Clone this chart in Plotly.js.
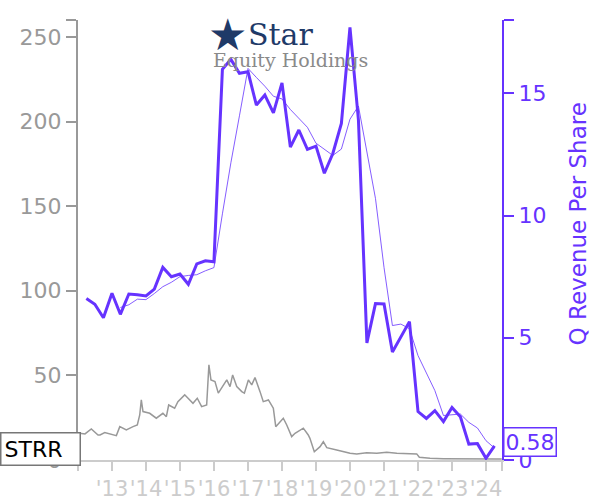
<!DOCTYPE html>
<html><head><meta charset="utf-8">
<script src="https://cdn.plot.ly/plotly-3.0.1.min.js"></script>
<style>html,body{margin:0;padding:0;background:#fff}#chart{width:600px;height:500px}</style>
</head><body><div id="chart"></div>
<script>
// Quarterly revenue per share (right axis)
const quarterDates = [
 "2012-03-31","2012-06-30","2012-09-30","2012-12-31",
 "2013-03-31","2013-06-30","2013-09-30","2013-12-31",
 "2014-03-31","2014-06-30","2014-09-30","2014-12-31",
 "2015-03-31","2015-06-30","2015-09-30","2015-12-31",
 "2016-03-31","2016-06-30","2016-09-30","2016-12-31",
 "2017-03-31","2017-06-30","2017-09-30","2017-12-31",
 "2018-03-31","2018-06-30","2018-09-30","2018-12-31",
 "2019-03-31","2019-06-30","2019-09-30","2019-12-31",
 "2020-03-31","2020-06-30","2020-09-30","2020-12-31",
 "2021-03-31","2021-06-30","2021-09-30","2021-12-31",
 "2022-03-31","2022-06-30","2022-09-30","2022-12-31",
 "2023-03-31","2023-06-30","2023-09-30","2023-12-31",
 "2024-03-31"];
const revenuePerShare = [
 6.61,6.37,5.82,6.82, 5.96,6.79,6.76,6.71, 6.99,7.88,7.50,7.61,
 7.19,8.02,8.15,8.11, 15.98,16.39,15.82,15.88, 14.52,14.93,14.20,15.43,
 12.80,13.50,12.71,12.84, 11.73,12.54,13.77,17.70, 13.91,4.79,6.40,6.38,
 4.42,5.03,5.66,1.98, 1.70,2.02,1.57,2.15, 1.77,0.65,0.67,0.07,
 0.58];
// Thin trailing line (starts at the 5th quarter)
const avgDates = quarterDates.slice(4);
const revenueTrailing = [
 6.24,6.35,6.58,6.56, 6.81,7.09,7.27,7.50, 7.55,7.58,7.74,7.87,
 10.07,12.16,14.08,16.02, 15.65,15.29,14.88,14.77, 14.34,13.98,13.61,12.96,
 12.70,12.46,12.72,13.94, 14.48,12.54,10.70,7.87, 5.50,5.56,5.37,4.27,
 3.59,2.84,1.82,1.86, 1.88,1.54,1.31,0.79, 0.49];

// Share price (left axis)
const priceDates = [
 "2012-01-03","2012-01-22","2012-03-16","2012-05-09","2012-05-23","2012-08-03","2012-08-25","2012-10-14",
 "2013-01-11","2013-02-16","2013-03-25","2013-06-03","2013-08-14","2013-09-29","2013-10-25","2013-11-11","2013-11-29",
 "2014-02-09","2014-04-21","2014-07-01","2014-08-07","2014-09-01","2014-11-04","2014-12-09",
 "2015-02-20","2015-03-28","2015-05-20","2015-07-05","2015-08-21","2015-10-14","2015-11-07","2015-11-29",
 "2016-01-11","2016-02-16","2016-04-10","2016-05-17","2016-06-21","2016-07-19","2016-09-01","2016-10-25","2016-11-22",
 "2017-01-04","2017-02-09","2017-03-16","2017-05-09","2017-06-13","2017-08-07","2017-09-29","2017-10-25","2017-12-09",
 "2018-01-14","2018-02-20","2018-04-14","2018-05-20","2018-08-17","2018-10-09","2018-10-27","2018-12-13",
 "2019-02-13","2019-03-20","2019-04-26","2019-08-11","2019-10-21",
 "2020-01-01","2020-03-13","2020-06-28","2020-10-14",
 "2021-01-29","2021-05-17","2021-09-01","2021-12-17",
 "2022-01-14","2022-05-09","2022-09-29","2023-03-28","2023-09-23","2024-04-25","2024-06-18"];
const priceValues = [
 15.4,15.8,15.4,17.8,18.3,14.8,14.8,16.2,
 14.8,14.4,19.7,17.8,19.7,20.7,26.6,35.5,28.6,
 27.6,24.7,27.6,25.6,32.5,30.6,34.5,
 38.5,36.5,33.5,36.5,31.5,32.5,56.2,47.3,
 46.3,39.5,44.4,47.3,43.4,50.3,43.4,40.4,39.5,
 47.3,44.4,48.7,40.4,34.5,35.5,30.6,19.7,22.7,
 24.7,20.7,13.8,15.8,18.8,14.8,12.8,4.9,
 7.9,10.8,7.3,5.9,4.9,
 4.0,3.6,4.3,4.0,
 4.6,4.0,4.0,3.6,
 1.6,1.0,0.8,0.6,0.8,0.6,0.6];

const yearTickVals = ["2012-01-01","2013-01-01","2014-01-01","2015-01-01","2016-01-01","2017-01-01","2018-01-01",
 "2019-01-01","2020-01-01","2021-01-01","2022-01-01","2023-01-01","2024-01-01","2024-06-18"];
const yearTickText = ["","'13","'14","'15","'16","'17","'18","'19","'20","'21","'22","'23","'24",""];
const leftTickVals = [0,50,100,150,200,250,260];
const leftTickText = ["0","50","100","150","200","250",""];
const rightTickVals = [0,5,10,15,18];
const rightTickText = ["0","5","10","15",""];

const PURPLE = "#6633ff";
const GREY = "#999999";
const LIGHT = "#cccccc";

const traces = [
 {x: priceDates, y: priceValues, type: "scatter", mode: "lines", yaxis: "y",
  line: {color: GREY, width: 1.5}, hoverinfo: "skip"},
 {x: quarterDates, y: revenuePerShare, type: "scatter", mode: "lines", yaxis: "y2",
  line: {color: PURPLE, width: 3}, hoverinfo: "skip"},
 {x: avgDates, y: revenueTrailing, type: "scatter", mode: "lines", yaxis: "y2",
  line: {color: PURPLE, width: 0.8}, hoverinfo: "skip"}
];

const layout = {
 width: 600, height: 500,
 margin: {l: 78, r: 98, t: 20, b: 40, pad: 0},
 paper_bgcolor: "#ffffff", plot_bgcolor: "#ffffff",
 showlegend: false,
 font: {family: "DejaVu Sans", size: 22},
 xaxis: {type: "date", range: ["2012-01-01", "2024-06-20"],
  tickmode: "array", tickvals: yearTickVals, ticktext: yearTickText,
  ticks: "outside", ticklen: 9, tickwidth: 2, tickcolor: LIGHT,
  showline: true, linecolor: LIGHT, linewidth: 2, showgrid: false, zeroline: false,
  tickfont: {color: LIGHT, size: 21}, tickangle: 0},
 yaxis: {range: [0, 260], tickmode: "array", tickvals: leftTickVals, ticktext: leftTickText,
  ticks: "outside", ticklen: 10, tickwidth: 2, tickcolor: GREY,
  showline: true, linecolor: GREY, linewidth: 2, showgrid: false, zeroline: false,
  tickfont: {color: GREY, size: 22}},
 yaxis2: {overlaying: "y", side: "right", range: [0, 18],
  tickmode: "array", tickvals: rightTickVals, ticktext: rightTickText,
  ticks: "outside", ticklen: 10, tickwidth: 2, tickcolor: PURPLE,
  showline: true, linecolor: PURPLE, linewidth: 2, showgrid: false, zeroline: false,
  tickfont: {color: PURPLE, size: 22}},
 annotations: [
  {text: "Q Revenue Per Share", xref: "paper", yref: "paper", x: 1.179, y: 0.5375,
   textangle: -90, showarrow: false, xanchor: "center", yanchor: "middle",
   font: {color: PURPLE, size: 23, family: "DejaVu Sans"}},
  {text: "STRR", xref: "paper", yref: "paper", x: -0.184, y: 0.024, xanchor: "left", yanchor: "middle",
   showarrow: false, align: "left", width: 72, bgcolor: "#ffffff", bordercolor: "#777777", borderwidth: 1.5, borderpad: 3,
   font: {color: "#000000", size: 22, family: "DejaVu Sans"}},
  {text: "0.58", xref: "paper", yref: "paper", x: 1.067, y: 0.041, xanchor: "center", yanchor: "middle",
   showarrow: false, bgcolor: "#ffffff", bordercolor: PURPLE, borderwidth: 1.5, borderpad: 1,
   font: {color: PURPLE, size: 22, family: "DejaVu Sans"}},
  {text: "★", xref: "paper", yref: "paper", x: 0.352, y: 0.968, xanchor: "center", yanchor: "middle",
   showarrow: false, font: {color: "#1f3a68", size: 44, family: "DejaVu Sans"}},
  {text: "Star", xref: "paper", yref: "paper", x: 0.4776, y: 0.968, xanchor: "center", yanchor: "middle",
   showarrow: false, font: {color: "#1f3a68", size: 30, family: "DejaVu Serif"}},
  {text: "Equity Holdings", xref: "paper", yref: "paper", x: 0.5, y: 0.909, xanchor: "center", yanchor: "middle",
   showarrow: false, font: {color: "#8a8a8a", size: 19, family: "DejaVu Serif"}}
 ]
};

Plotly.newPlot("chart", traces, layout, {displayModeBar: false, staticPlot: true});
</script>
</body></html>
